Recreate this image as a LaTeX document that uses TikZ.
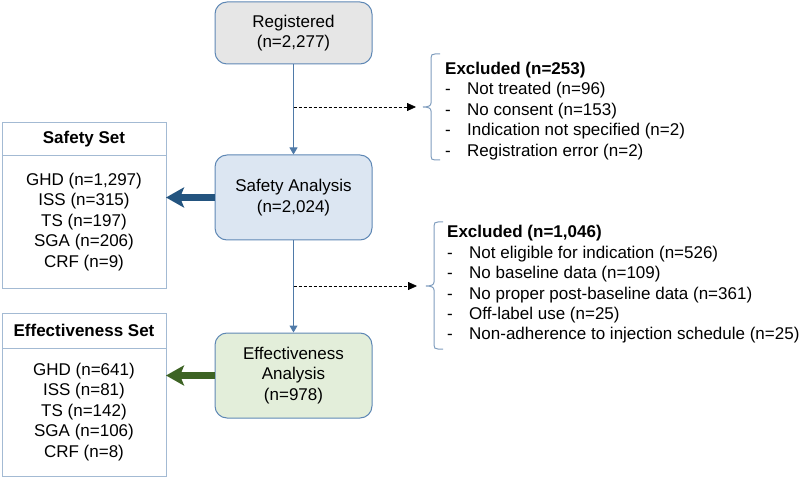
\documentclass[tikz,border=0pt]{standalone}
\usepackage{fontspec}
\setmainfont{Liberation Sans}
\usetikzlibrary{arrows.meta,positioning}

\definecolor{boxedge}{HTML}{5F88B5}
\definecolor{setedge}{HTML}{A3BAD3}
\definecolor{lineblue}{HTML}{4F7AA8}
\definecolor{bracecol}{HTML}{7F9DBE}
\definecolor{regfill}{HTML}{E6E6E6}
\definecolor{safefill}{HTML}{DCE6F2}
\definecolor{efffill}{HTML}{E3EEDA}
\definecolor{safedark}{HTML}{23547F}
\definecolor{effdark}{HTML}{3D6324}

\tikzset{
  flowbox/.style={draw=boxedge, line width=1pt, rounded corners=12pt, minimum width=157pt,
    align=center, font=\fontsize{17}{20.5}\selectfont},
  sethead/.style={draw=setedge, line width=1pt, minimum width=164pt, outer sep=0pt,
    font=\fontsize{17}{20.5}\selectfont\bfseries},
  setbody/.style={draw=setedge, line width=1pt, minimum width=164pt, outer sep=0pt,
    align=center, font=\fontsize{17}{20.5}\selectfont},
  exlist/.style={inner sep=0pt, anchor=north west, font=\fontsize{17}{20.4}\selectfont},
  flowline/.style={draw=lineblue, line width=1pt, -{Triangle[length=7pt,width=8pt]}},
  dasharrow/.style={black, line width=0.8pt, dash pattern=on 3pt off 2pt,
    -{Triangle[length=9pt,width=8pt]}},
  bigarrow/.style={line width=7pt, -{Stealth[length=18pt,width=20pt,inset=4pt]}},
  exbrace/.style={draw=bracecol, line width=1pt}
}

\begin{document}
\begin{tikzpicture}[x=1pt,y=-1pt]
\useasboundingbox (0,0) rectangle (800,478);

% main flow
\node[flowbox, fill=regfill, minimum height=62pt] (reg) at (293.5,33) {Registered\\(n=2,277)};
\node[flowbox, fill=safefill, minimum height=85pt] (safe) at (293.5,197.5) {Safety Analysis\\(n=2,024)};
\node[flowbox, fill=efffill, minimum height=85pt] (eff) at (293.5,375.5) {Effectiveness\\Analysis\\(n=978)};

\draw[flowline] (reg) -- (safe);
\draw[flowline] (safe) -- (eff);

% analysis sets
\node[sethead, minimum height=33pt] (safehead) at (84,139.5) {Safety Set};
\node[setbody, minimum height=132pt, below=0pt of safehead] (safebody)
  {GHD (n=1,297)\\ISS (n=315)\\TS (n=197)\\SGA (n=206)\\CRF (n=9)};
\node[sethead, minimum height=35pt] (effhead) at (84,330.5) {Effectiveness Set};
\node[setbody, minimum height=128pt, below=0pt of effhead] (effbody)
  {GHD (n=641)\\ISS (n=81)\\TS (n=142)\\SGA (n=106)\\CRF (n=8)};

\draw[bigarrow, safedark] (safe.west) -- (safe.west -| safebody.east);
\draw[bigarrow, effdark] (eff.west) -- (eff.west -| effbody.east);

% exclusions
\coordinate (d1) at (293.5,107);
\coordinate (b1) at (416,107);
\coordinate (d2) at (293.5,286);
\coordinate (b2) at (417,286);
\draw[dasharrow] (d1) -- (b1);
\draw[dasharrow] (d2) -- (b2);

\draw[exbrace] (440,54) -- (435,54) .. controls (432,54) and (431,55) .. (431,58) -- (431,103)
  .. controls (431,106) and (428,107) .. (423,107) .. controls (428,107) and (431,108) .. (431,111)
  -- (431,156) .. controls (431,159) and (432,160) .. (435,160) -- (440,160);
\draw[exbrace] (443,222) -- (438,222) .. controls (435,222) and (434,223) .. (434,226) -- (434,282)
  .. controls (434,285) and (431,286) .. (426,286) .. controls (431,286) and (434,287) .. (434,290)
  -- (434,345) .. controls (434,348) and (435,349) .. (438,349) -- (443,349);

\node[exlist] (ex1) at (445,60) {\begin{tabular}{@{}p{22pt}@{}l@{}}
  \multicolumn{2}{@{}l@{}}{\textbf{Excluded (n=253)}}\\
  - & Not treated (n=96)\\
  - & No consent (n=153)\\
  - & Indication not specified (n=2)\\
  - & Registration error (n=2)
\end{tabular}};
\node[exlist] (ex2) at (447,223.4) {\begin{tabular}{@{}p{22pt}@{}l@{}}
  \multicolumn{2}{@{}l@{}}{\textbf{Excluded (n=1,046)}}\\
  - & Not eligible for indication (n=526)\\
  - & No baseline data (n=109)\\
  - & No proper post-baseline data (n=361)\\
  - & Off-label use (n=25)\\
  - & Non-adherence to injection schedule (n=25)
\end{tabular}};
\end{tikzpicture}
\end{document}
